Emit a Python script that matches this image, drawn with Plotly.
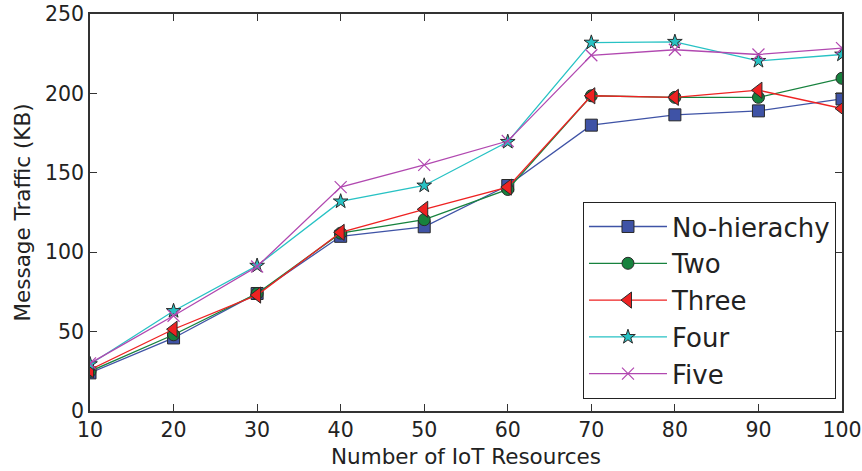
import plotly.graph_objects as go

x_vals = [10, 20, 30, 40, 50, 60, 70, 80, 90, 100]
no_hierachy = [24, 46, 74, 110, 116, 142, 180, 186.5, 189, 196.5]
two = [25, 48, 74, 112, 120.5, 139.5, 198.5, 197.5, 197.5, 209.5]
three = [26, 51.5, 73, 112.5, 127, 141, 198.5, 197.5, 202, 190.5]
four = [29.5, 63, 91.5, 132, 142, 169.5, 232, 232.5, 220.5, 224.5]
five = [30, 60, 91, 141, 155, 170, 224, 227.5, 224.5, 228.5]

series = [
    ("No-hierachy", no_hierachy, "#3f53a6", "square", 12, "#2a2a2a"),
    ("Two", two, "#17823e", "circle", 12, "#2a2a2a"),
    ("Three", three, "#ee2222", "triangle-left", 14, "#2a2a2a"),
    ("Four", four, "#27c2c4", "star", 11, "#2a2a2a"),
    ("Five", five, "#b148b0", "x-thin", 12, None),
]

fig = go.Figure()
for name, vals, color, sym, size, edge in series:
    if edge is None:
        marker = dict(symbol=sym, size=size, color=color, line=dict(color=color, width=1.2))
    else:
        marker = dict(symbol=sym, size=size, color=color, line=dict(color=edge, width=1))
    fig.add_trace(go.Scatter(
        x=x_vals, y=vals, name=name, mode="lines+markers",
        line=dict(color=color, width=1.3), marker=marker,
    ))

axis_common = dict(
    showline=True, linecolor="#333333", linewidth=1.5, mirror="ticks",
    ticks="inside", ticklen=7, tickwidth=1.2, tickcolor="#333333",
    showgrid=False, zeroline=False, automargin=False,
    ticklabeloverflow="allow",
    tickfont=dict(family="DejaVu Sans", size=20.5, color="#222222"),
)

fig.update_layout(
    width=862, height=471,
    margin=dict(l=90, r=20, t=14, b=60),
    paper_bgcolor="white", plot_bgcolor="white",
    font=dict(family="DejaVu Sans", color="#222222"),
    xaxis=dict(range=[10, 100], dtick=10, tick0=10,
               title=dict(text="Number of IoT Resources", font=dict(size=21.5), standoff=8),
               **axis_common),
    yaxis=dict(range=[0, 250], dtick=50,
               title=dict(text="Message Traffic (KB)", font=dict(size=21.5), standoff=8),
               **axis_common),
    legend=dict(
        x=0.992, y=0.03, xanchor="right", yanchor="bottom",
        bordercolor="#222222", borderwidth=1, bgcolor="white",
        font=dict(family="DejaVu Sans", size=26, color="#222222"),
        itemwidth=78, tracegroupgap=0,
    ),
    showlegend=True,
)

fig.write_html(
    "out.html",
    config={"displayModeBar": False},
    post_script="document.body.style.margin='0';document.body.style.overflow='hidden';",
)
